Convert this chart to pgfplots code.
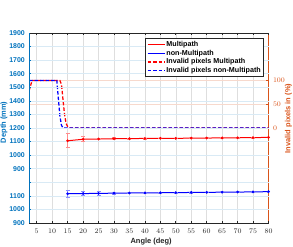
\documentclass[border=0pt]{standalone}
\usepackage{fontspec}
\setmainfont{Liberation Sans}
\usepackage{pgfplots}
\pgfplotsset{compat=1.18}
\usepackage{pgfplotstable}
\usetikzlibrary{calc}
\definecolor{mblue}{RGB}{0,114,189}
\definecolor{morange}{RGB}{217,83,25}
\definecolor{mgray}{RGB}{38,38,38}

% depth (mm) with std, Multipath
\pgfplotstableread{
x d e
15 1106 52
20 1117 18
25 1119 6
30 1121 8
35 1122 3
40 1123 4
45 1124 3
50 1124 3
55 1125 4
60 1126 3
65 1127 3
70 1128 3
75 1129 4
80 1131 3
}\multipath
% depth (mm) with std, non-Multipath
\pgfplotstableread{
x d e
15 1116 25
20 1117 15
25 1118 14
30 1120 8
35 1121 4
40 1122 4
45 1123 3
50 1124 3
55 1125 4
60 1126 3
65 1127 3
70 1128 3
75 1129 4
80 1131 3
}\nonmultipath
% invalid pixels (%)
\pgfplotstableread{
x p
2.5 78
3.5 100
12.5 100
13 92
13.5 60
14 28
14.5 10
15 3
15.5 0
80 0
}\invM
\pgfplotstableread{
x p
2.5 100
11.5 100
12 62
12.5 25
13 6
13.5 0
80 0
}\invN

\begin{document}
\begin{tikzpicture}[font=\fontsize{7}{8}\selectfont\bfseries]
\useasboundingbox (-29bp,-24bp) rectangle (264bp,223bp);
% vertical grid
\begin{axis}[at={(0,0)}, anchor=south west, scale only axis,
  width=239.5bp, height=190bp,
  xmin=2.5, xmax=80, ymin=0, ymax=1,
  xtick={5,10,...,80}, xticklabels={}, ytick=\empty,
  xtick style={draw=none},
  x axis line style={draw=none}, y axis line style={draw=none},
  xmajorgrids, grid style={line width=0.5bp, black!13}]
\end{axis}
% right axis: invalid pixels
\begin{axis}[at={(0,0)}, anchor=south west, scale only axis,
  width=239.5bp, height=190bp,
  xmin=2.5, xmax=80, ymin=-200, ymax=200,
  axis y line*=right, axis x line*=bottom,
  x axis line style={draw=none}, xtick=\empty,
  y axis line style={morange, line width=0.7bp},
  ytick={0,50,100},
  extra y ticks={-171.43,-142.86,-114.29,-85.71,-57.14,-28.57,28.57,57.14,85.71,114.29,142.86,171.43},
  extra y tick labels={},
  extra y tick style={grid=none, major tick style={draw=mblue, line width=0.6bp}},
  tick align=inside, major tick length=2.5bp,
  ytick style={draw=morange, line width=0.6bp},
  yticklabel style={morange, xshift=1bp},
  ymajorgrids, grid style={line width=0.5bp, morange!22},
  ylabel={Invalid pixels in (\%)},
  every axis y label/.style={at={($(rel axis cs:1,0.55)+(20bp,0)$)}, rotate=90, anchor=center,
     text=morange, font=\fontsize{7.5}{8}\selectfont\bfseries},
  ]
\addplot[draw=red, line width=1.25bp, dash pattern=on 3.5bp off 2bp] table[x=x, y=p] {\invM};
\addplot[draw=blue, line width=1.25bp, dash pattern=on 3.5bp off 2bp] table[x=x, y=p] {\invN};
\end{axis}
% left axis: depth
\begin{axis}[at={(0,0)}, anchor=south west, scale only axis,
  width=239.5bp, height=190bp,
  xmin=2.5, xmax=80, ymin=500, ymax=1900,
  axis x line*=box, axis y line*=left,
  x axis line style={mgray, line width=0.7bp},
  y axis line style={mblue, line width=0.7bp},
  xtick={5,10,...,80},
  ytick={500,600,...,1900},
  yticklabels={900,1000,1100,,900,1000,1100,1200,1300,1400,1500,1600,1700,1800,1900},
  tick align=inside, major tick length=2.5bp,
  xtick style={draw=mgray, line width=0.6bp},
  ytick style={draw=mblue, line width=0.6bp},
  yticklabel style={mblue, xshift=-0.7bp},
  xticklabel style={mgray, yshift=-2bp},
  ymajorgrids, grid style={line width=0.5bp, mblue!15},
  xlabel={Angle (deg)},
  ylabel={Depth (mm)},
  every axis x label/.style={at={($(rel axis cs:0.51,0)+(0,-18.5bp)$)}, anchor=center,
     text=mgray, font=\fontsize{7.5}{8}\selectfont\bfseries},
  every axis y label/.style={at={($(rel axis cs:0,0.53)+(-25bp,0)$)}, rotate=90, anchor=center,
     text=mblue, font=\fontsize{7.5}{8}\selectfont\bfseries},
  legend style={at={(rel axis cs:0.981,0.972)}, anchor=north east,
    draw=mgray, line width=0.8bp, fill=white,
    font=\fontsize{7.2}{8}\selectfont\bfseries,
    inner xsep=1.5bp, inner ysep=1.5bp, row sep=-0.5bp,
    nodes={inner sep=1.2bp}},
  legend cell align=left,
  ]
\addplot[red, line width=1bp, mark=*, mark size=0.8bp, forget plot,
  error bars/.cd, y dir=both, y explicit,
  error bar style={red!45, line width=0.7bp},
  error mark options={rotate=90, mark size=2bp, red!45, line width=0.7bp}]
  table[x=x, y=d, y error=e] {\multipath};
\addplot[blue, line width=1bp, mark=*, mark size=0.8bp, forget plot,
  error bars/.cd, y dir=both, y explicit,
  error bar style={blue!45, line width=0.7bp},
  error mark options={rotate=90, mark size=2bp, blue!45, line width=0.7bp}]
  table[x=x, y expr=\thisrow{d}-400, y error=e] {\nonmultipath};
\addlegendimage{draw=red, line width=1bp}
\addlegendimage{draw=blue, line width=1bp}
\addlegendimage{draw=red, line width=1.25bp, dash pattern=on 3.5bp off 2bp}
\addlegendimage{draw=blue, line width=1.25bp, dash pattern=on 3.5bp off 2bp}
\legend{Multipath, non-Multipath, Invalid pixels Multipath, Invalid pixels non-Multipath}
\end{axis}
\end{tikzpicture}
\end{document}
